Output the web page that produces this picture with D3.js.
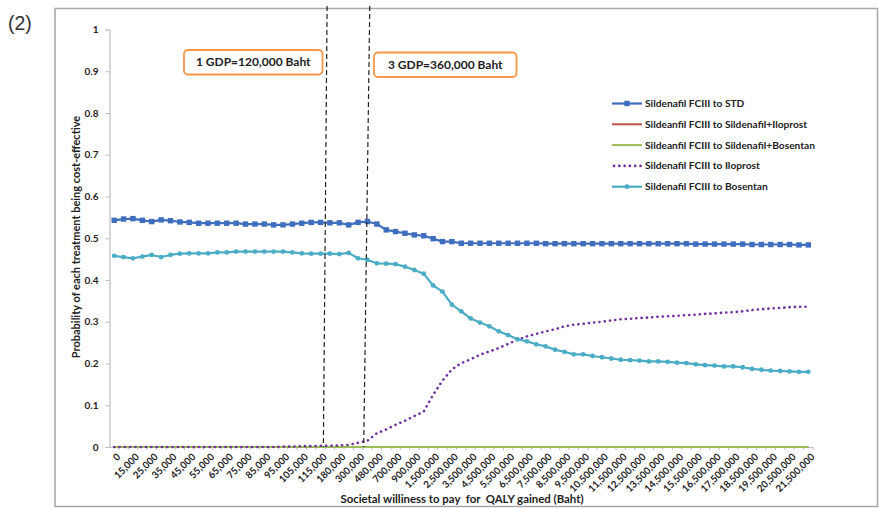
<!DOCTYPE html>
<html>
<head>
<meta charset="utf-8">
<script src="https://cdn.jsdelivr.net/npm/d3@7"></script>
<style>
  html, body { margin: 0; padding: 0; background: #fff; }
  svg { display: block; }
  text { font-family: Lato, "Open Sans", sans-serif; }
</style>
</head>
<body>
<svg id="chart" width="879" height="508"></svg>
<script>
// ---------- DATA ----------
const categories = [0, 10000, 15000, 20000, 25000, 30000, 35000, 40000, 45000, 50000,
  55000, 60000, 65000, 70000, 75000, 80000, 85000, 90000, 95000, 100000,
  105000, 110000, 115000, 120000, 180000, 240000, 300000, 360000, 480000, 600000,
  700000, 800000, 900000, 1000000, 1500000, 2000000, 2500000, 3000000, 3500000, 4000000,
  4500000, 5000000, 5500000, 6000000, 6500000, 7000000, 7500000, 8000000, 8500000, 9000000,
  9500000, 10000000, 10500000, 11000000, 11500000, 12000000, 12500000, 13000000, 13500000, 14000000,
  14500000, 15000000, 15500000, 16000000, 16500000, 17000000, 17500000, 18000000, 18500000, 19000000,
  19500000, 20000000, 20500000, 21000000, 21500000];

const sildenafilToSTD = [0.543, 0.546, 0.547, 0.543, 0.540, 0.544, 0.542, 0.539, 0.538, 0.536,
  0.536, 0.536, 0.536, 0.536, 0.534, 0.534, 0.534, 0.532, 0.532, 0.534,
  0.536, 0.538, 0.538, 0.537, 0.537, 0.532, 0.538, 0.540, 0.534, 0.520,
  0.516, 0.512, 0.508, 0.506, 0.499, 0.492, 0.492, 0.488, 0.488, 0.488,
  0.488, 0.488, 0.488, 0.488, 0.488, 0.488, 0.487, 0.487, 0.487, 0.487,
  0.487, 0.487, 0.487, 0.487, 0.487, 0.487, 0.487, 0.487, 0.487, 0.487,
  0.487, 0.487, 0.486, 0.486, 0.486, 0.486, 0.486, 0.486, 0.485, 0.485,
  0.485, 0.485, 0.485, 0.484, 0.484];

const sildenafilToSildenafilIloprost = categories.map(() => 0);
const sildenafilToSildenafilBosentan = categories.map(() => 0);

const sildenafilToIloprost = [0, 0, 0, 0, 0, 0, 0, 0, 0, 0,
  0, 0, 0, 0, 0, 0, 0, 0, 0.001, 0.001,
  0.002, 0.002, 0.003, 0.003, 0.004, 0.005, 0.010, 0.015, 0.033, 0.042,
  0.053, 0.063, 0.074, 0.085, 0.125, 0.159, 0.186, 0.201, 0.210, 0.221,
  0.229, 0.237, 0.247, 0.257, 0.265, 0.271, 0.277, 0.282, 0.289, 0.293,
  0.295, 0.298, 0.300, 0.303, 0.306, 0.307, 0.309, 0.310, 0.312, 0.313,
  0.314, 0.316, 0.317, 0.319, 0.320, 0.322, 0.323, 0.325, 0.328, 0.330,
  0.332, 0.333, 0.335, 0.336, 0.336];

const sildenafilToBosentan = [0.458, 0.455, 0.452, 0.456, 0.460, 0.455, 0.460, 0.463, 0.464, 0.464,
  0.464, 0.466, 0.466, 0.468, 0.468, 0.468, 0.468, 0.468, 0.468, 0.466,
  0.464, 0.463, 0.463, 0.463, 0.462, 0.465, 0.452, 0.448, 0.440, 0.439,
  0.438, 0.432, 0.424, 0.415, 0.387, 0.372, 0.341, 0.325, 0.308, 0.298,
  0.289, 0.277, 0.268, 0.258, 0.253, 0.246, 0.241, 0.233, 0.228, 0.222,
  0.222, 0.218, 0.215, 0.212, 0.209, 0.208, 0.207, 0.205, 0.205, 0.204,
  0.202, 0.201, 0.198, 0.196, 0.195, 0.193, 0.193, 0.191, 0.187, 0.185,
  0.183, 0.182, 0.181, 0.180, 0.180];

const yTicks = [0, 0.1, 0.2, 0.3, 0.4, 0.5, 0.6, 0.7, 0.8, 0.9, 1];

const seriesNames = ["Sildenafil FCIII to STD", "Sildeanfil FCIII to Sildenafil+Iloprost",
  "Sildeanfil FCIII to Sildenafil+Bosentan", "Sildenafil FCIII to Iloprost", "Sildenafil FCIII to Bosentan"];

const annotations = [
  { label: "1 GDP=120,000 Baht", at: 120000 },
  { label: "3 GDP=360,000 Baht", at: 360000 }
];

// ---------- STYLES ----------
const series = [
  { name: seriesNames[0], values: sildenafilToSTD, color: "#3F6EBE", width: 2.2, marker: "square" },
  { name: seriesNames[1], values: sildenafilToSildenafilIloprost, color: "#C0504D", width: 2, marker: null },
  { name: seriesNames[2], values: sildenafilToSildenafilBosentan, color: "#9BBB59", width: 2, marker: null },
  { name: seriesNames[3], values: sildenafilToIloprost, color: "#7030A0", width: 2.6, marker: null, dotted: true },
  { name: seriesNames[4], values: sildenafilToBosentan, color: "#4BACC6", width: 2.2, marker: "circle" }
];

const svg = d3.select("#chart");
const plotLeft = 109.5, plotRight = 813, plotTop = 29.5, plotBottom = 447;

// Outer frame
svg.append("rect").attr("x", 55).attr("y", 8.5).attr("width", 822.5).attr("height", 498)
  .attr("fill", "none").attr("stroke", "#A6A6A6").attr("stroke-width", 1.5);

svg.append("text").attr("x", 8).attr("y", 30).text("(2)")
  .style("font-family", "'Liberation Sans', Arial, sans-serif").style("font-size", "19.5px").attr("fill", "#333");

const x = d3.scaleBand().domain(categories).range([plotLeft, plotRight]).padding(0);
const y = d3.scaleLinear().domain([0, 1]).range([plotBottom, plotTop]);
const bw = x.bandwidth();
const cx = c => x(c) + bw / 2;

// Y axis
const yAxis = svg.append("g").attr("transform", `translate(${plotLeft},0)`)
  .call(d3.axisLeft(y).tickValues(yTicks).tickSize(4).tickPadding(7)
    .tickFormat(d => d === 0 || d === 1 ? d3.format("d")(d) : d3.format(".1f")(d)));
yAxis.select(".domain").attr("stroke", "#BFBFBF").attr("stroke-width", 1.2);
yAxis.selectAll(".tick line").attr("stroke", "#BFBFBF");
yAxis.selectAll(".tick text").style("font-size", "10px").style("font-weight", "bold")
  .style("font-family", "Lato, sans-serif").attr("fill", "#222");

// X axis
const xAxis = svg.append("g").attr("transform", `translate(0,${plotBottom})`)
  .call(d3.axisBottom(x).tickSize(0).tickFormat(d => d3.format(",")(d)));
xAxis.select(".domain").attr("stroke", "#BFBFBF").attr("stroke-width", 1.2);
xAxis.selectAll(".sep").data(categories).enter().append("line")
  .attr("x1", d => x(d) + bw).attr("x2", d => x(d) + bw).attr("y1", 0).attr("y2", 3)
  .attr("stroke", "#BFBFBF");
xAxis.selectAll(".tick").each(function(d, i) {
  const t = d3.select(this).select("text");
  if (i % 2 !== 0) { t.remove(); return; }
  t.attr("text-anchor", "end").attr("dy", "0.35em").attr("y", 0)
    .attr("transform", "translate(4.5,8) rotate(-45)")
    .style("font-size", "9.8px").style("font-weight", "bold").style("font-family", "Lato, sans-serif")
    .attr("fill", "#222");
});

// Axis titles
svg.append("text").attr("transform", `translate(80,237) rotate(-90)`)
  .attr("text-anchor", "middle").style("font-size", "11px").style("font-weight", "bold")
  .attr("fill", "#222").text("Probability of each treatment being cost-effective");
svg.append("text").attr("x", 462).attr("y", 503).attr("text-anchor", "middle")
  .style("font-size", "11.4px").style("font-weight", "bold").style("white-space", "pre")
  .attr("fill", "#222").text("Societal williness to pay  for  QALY gained (Baht)");

// Lines
const line = d3.line().x((d, i) => cx(categories[i])).y(d => y(d));
series.forEach(s => {
  const p = svg.append("path").datum(s.values).attr("d", line)
    .attr("fill", "none").attr("stroke", s.color).attr("stroke-width", s.width)
    .attr("stroke-linejoin", "round");
  if (s.dotted) p.attr("stroke-dasharray", "0.1 5.2").attr("stroke-linecap", "round");
  if (s.marker === "square") {
    svg.append("g").selectAll("rect").data(s.values).enter().append("rect")
      .attr("x", (d, i) => cx(categories[i]) - 2.7).attr("y", d => y(d) - 2.7)
      .attr("width", 5.4).attr("height", 5.4).attr("fill", s.color);
  } else if (s.marker === "circle") {
    svg.append("g").selectAll("circle").data(s.values).enter().append("circle")
      .attr("cx", (d, i) => cx(categories[i])).attr("cy", d => y(d)).attr("r", 2.4)
      .attr("fill", s.color);
  }
});

// Dashed threshold lines
annotations.forEach((a, k) => {
  const x0 = x(a.at);
  const xt = k === 0 ? x0 + 0.2 * bw : x0 + 0.75 * bw;
  const xb = k === 0 ? x0 - 0.2 * bw : x0 + 0.1 * bw;
  svg.append("line").attr("x1", xt).attr("y1", 6).attr("x2", xb).attr("y2", plotBottom)
    .attr("stroke", "#222").attr("stroke-width", 1.2).attr("stroke-dasharray", "5 3");
});

// Annotation boxes
const boxes = [
  { x: 184, y: 50, w: 138.5, h: 24.5 },
  { x: 374, y: 52.5, w: 142.5, h: 24.5 }
];
annotations.forEach((a, k) => {
  const b = boxes[k];
  svg.append("rect").attr("x", b.x).attr("y", b.y).attr("width", b.w).attr("height", b.h)
    .attr("rx", 4).attr("fill", "#fff").attr("stroke", "#F79646").attr("stroke-width", 1.8);
  svg.append("text").attr("x", b.x + b.w / 2).attr("y", b.y + b.h / 2 + 4.2)
    .attr("text-anchor", "middle").style("font-size", "12px").style("font-weight", "bold")
    .attr("fill", "#222").text(a.label);
});

// Legend
const lg = svg.append("g");
series.forEach((s, i) => {
  const ly = 103.5 + i * 20.8;
  const l = lg.append("line").attr("x1", 612).attr("x2", 642).attr("y1", ly).attr("y2", ly)
    .attr("stroke", s.color).attr("stroke-width", s.width);
  if (s.dotted) l.attr("stroke-dasharray", "0.1 5.2").attr("stroke-linecap", "round").attr("x1", 614);
  if (s.marker === "square") lg.append("rect").attr("x", 624.3).attr("y", ly - 2.7).attr("width", 5.4).attr("height", 5.4).attr("fill", s.color);
  if (s.marker === "circle") lg.append("circle").attr("cx", 627).attr("cy", ly).attr("r", 2.4).attr("fill", s.color);
  lg.append("text").attr("x", 645).attr("y", ly + 3.5).style("font-size", "10.2px").style("font-weight", "bold")
    .attr("fill", "#222").text(s.name);
});
</script>
</body>
</html>
